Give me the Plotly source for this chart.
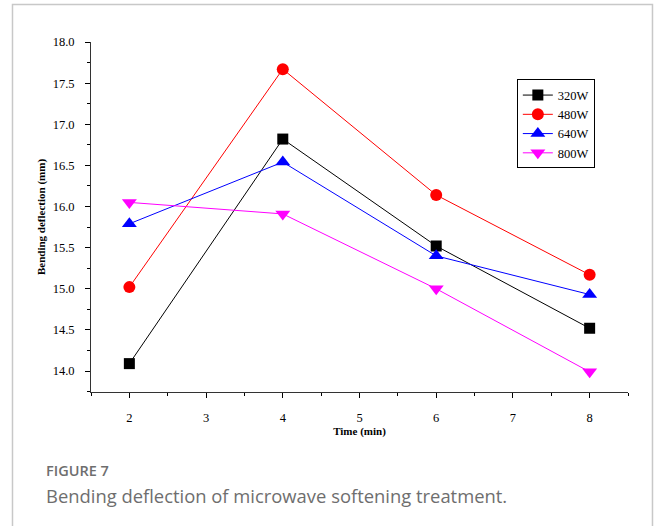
import plotly.graph_objects as go

time_min = [2, 4, 6, 8]
series_names = ["320W", "480W", "640W", "800W"]
w320 = [14.09, 16.82, 15.52, 14.52]
w480 = [15.02, 17.67, 16.14, 15.17]
w640 = [15.79, 16.54, 15.40, 14.93]
w800 = [16.05, 15.91, 15.00, 13.99]

series_values = [w320, w480, w640, w800]
colors = ["#000000", "#ff0000", "#0000ff", "#ff00ff"]
symbols = ["square", "circle", "triangle-up", "triangle-down"]
sizes = [11, 12, 13, 13]

fig = go.Figure()
for name, vals, c, s, sz in zip(series_names, series_values, colors, symbols, sizes):
    fig.add_trace(go.Scatter(
        x=time_min, y=vals, name=name, mode="lines+markers",
        line=dict(color=c, width=1),
        marker=dict(color=c, symbol=s, size=sz, line=dict(width=0)),
    ))

SERIF = "Liberation Serif, Times New Roman, serif"
axis_font = dict(family=SERIF, size=12.5, color="#000000")
title_font = dict(family=SERIF, size=11, color="#000000")

fig.update_layout(
    width=654, height=526,
    margin=dict(l=91, r=26, t=42, b=134),
    paper_bgcolor="white", plot_bgcolor="white",
    font=dict(family=SERIF, size=12, color="#000000"),
    showlegend=True,
    legend=dict(
        x=0.793, y=0.893, xanchor="left", yanchor="top",
        bgcolor="white", bordercolor="#000000", borderwidth=1,
        font=dict(family=SERIF, size=12.5, color="#000000"),
        itemwidth=30, tracegroupgap=0,
    ),
    xaxis=dict(
        range=[1.5, 8.5], dtick=1, tick0=0,
        showgrid=False, zeroline=False,
        showline=True, linecolor="#333333", linewidth=1,
        ticks="outside", ticklen=5, tickcolor="#000000", tickwidth=1,
        tickfont=axis_font, ticklabelstandoff=9,
        minor=dict(ticks="outside", ticklen=3, dtick=0.5, tick0=0, tickcolor="#000000", showgrid=False),
        title=dict(text="<b>Time (min)</b>", font=title_font, standoff=2),
    ),
    yaxis=dict(
        range=[13.745, 18.0], dtick=0.5, tick0=0, tickformat=".1f",
        showgrid=False, zeroline=False,
        showline=True, linecolor="#333333", linewidth=1,
        ticks="outside", ticklen=5, tickcolor="#000000", tickwidth=1,
        tickfont=axis_font, ticklabelstandoff=8,
        minor=dict(ticks="outside", ticklen=3, dtick=0.25, tick0=0, tickcolor="#000000", showgrid=False),
        title=dict(text="<b>Bending deflection (mm)</b>", font=title_font, standoff=4),
    ),
    shapes=[dict(
        type="rect", xref="paper", yref="paper",
        x0=-0.1462, x1=1.0456, y0=-0.5, y1=1.107,
        line=dict(color="#c8c8c8", width=1.5), fillcolor="rgba(0,0,0,0)", layer="below",
    )],
    annotations=[
        dict(text="FIGURE 7", xref="paper", yref="paper", x=-0.0875, y=-0.2257,
             xanchor="left", yanchor="middle", showarrow=False,
             font=dict(family="Open Sans", size=14.5, color="#6e6e6e", weight=600)),
        dict(text="Bending deflection of microwave softening treatment.", xref="paper", yref="paper",
             x=-0.0875, y=-0.2943, xanchor="left", yanchor="middle", showarrow=False,
             font=dict(family="Open Sans", size=18.4, color="#6e6e6e")),
    ],
)

fig.write_html("out.html")
